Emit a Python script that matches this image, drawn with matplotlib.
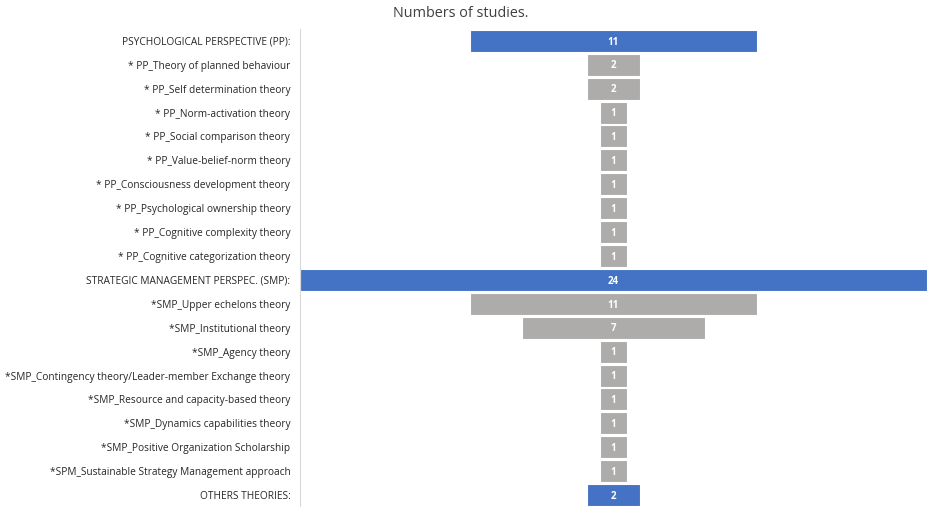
import matplotlib.pyplot as plt

# ----------------------------------------------------------
# Datos
# ----------------------------------------------------------
categories = [
    "PSYCHOLOGICAL PERSPECTIVE (PP):",
    "* PP_Theory of planned behaviour",
    "* PP_Self determination theory",
    "* PP_Norm-activation theory",
    "* PP_Social comparison theory",
    "* PP_Value-belief-norm theory",
    "* PP_Consciousness development theory",
    "* PP_Psychological ownership theory",
    "* PP_Cognitive complexity theory",
    "* PP_Cognitive categorization theory",
    "STRATEGIC MANAGEMENT PERSPEC. (SMP):",
    "*SMP_Upper echelons theory",
    "*SMP_Institutional theory",
    "*SMP_Agency theory",
    "*SMP_Contingency theory/Leader-member Exchange theory",
    "*SMP_Resource and capacity-based theory",
    "*SMP_Dynamics capabilities theory",
    "*SMP_Positive Organization Scholarship",
    "*SPM_Sustainable Strategy Management approach",
    "OTHERS THEORIES:",
]
values = [11, 2, 2, 1, 1, 1, 1, 1, 1, 1, 24, 11, 7, 1, 1, 1, 1, 1, 1, 2]
is_group = [True] + [False] * 9 + [True] + [False] * 8 + [True]

BLUE = "#4472C4"
GRAY = "#AEABAB"

plt.rcParams["font.family"] = ["Open Sans", "DejaVu Sans"]

fig = plt.figure(figsize=(9.27, 5.07), dpi=100)
ax = fig.add_axes([0.3236, 0.0, 0.6764, 0.943])

max_v = max(values)
ys = list(range(len(categories)))
lefts = [(max_v - v) / 2 for v in values]
colors = [BLUE if g else GRAY for g in is_group]

ax.barh(ys, values, left=lefts, height=0.92, color=colors,
        edgecolor="white", linewidth=0.8)

for y, v, l in zip(ys, values, lefts):
    ax.text(l + v / 2, y + 0.05, str(v), ha="center", va="center",
            color="white", fontsize=7, fontweight="bold")

ax.set_xlim(0, max_v)
ax.set_ylim(len(categories) - 0.5, -0.5)
ax.set_yticks(ys)
ax.set_yticklabels(categories, fontsize=7.3, color="#262626")
ax.set_xticks([])
ax.tick_params(axis="y", length=0, pad=7)

for s in ["top", "right", "bottom"]:
    ax.spines[s].set_visible(False)
ax.spines["left"].set_color("#D9D9D9")
ax.spines["left"].set_linewidth(0.8)

fig.text(0.497, 0.973, "Numbers of studies.", ha="center", va="center",
         fontsize=10.4, color="#404040")

fig.savefig("out.png", dpi=100)
